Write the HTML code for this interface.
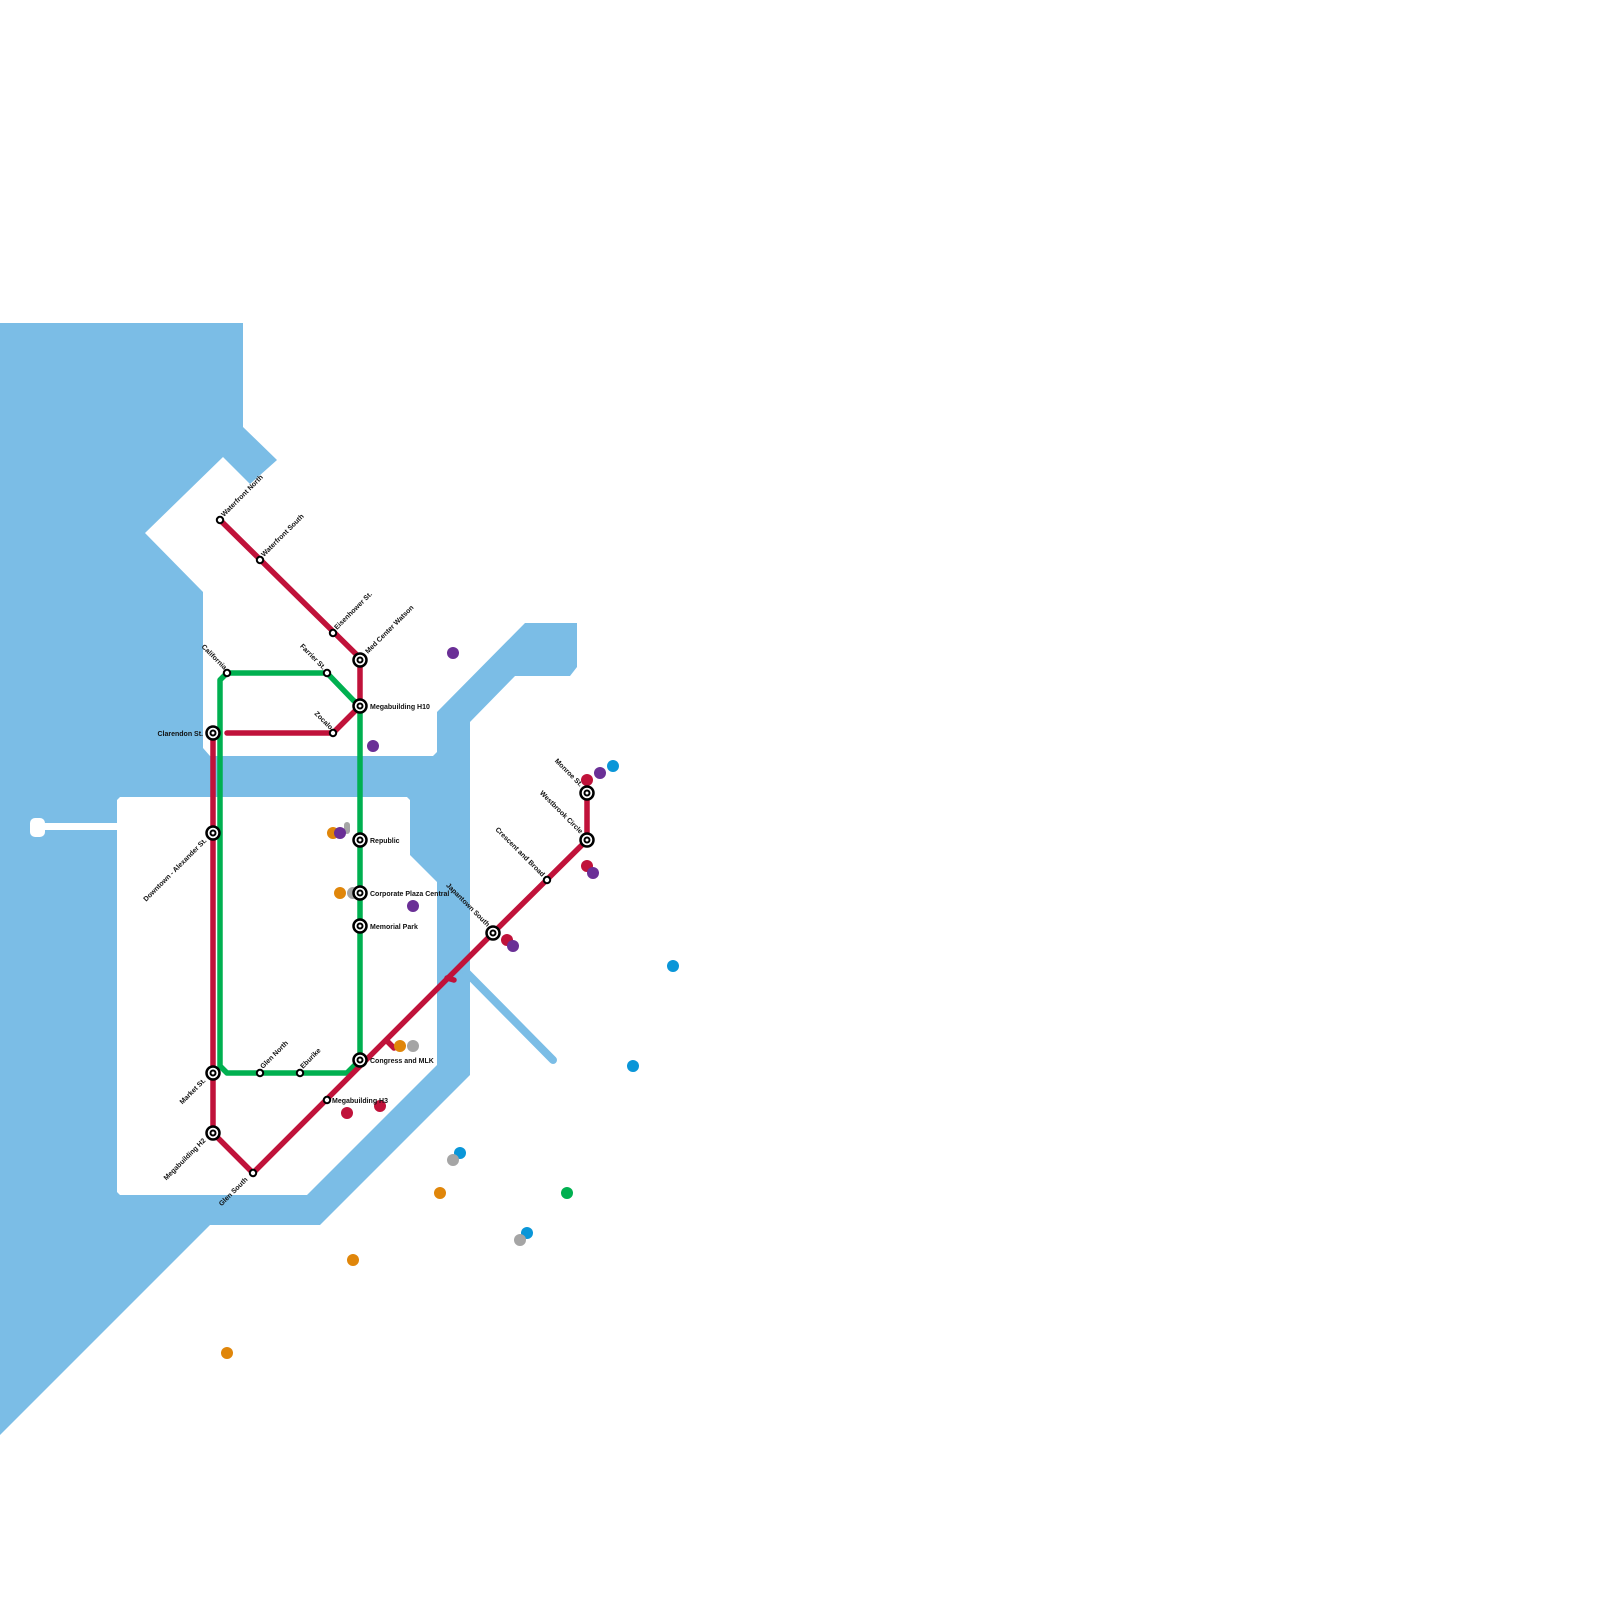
<!DOCTYPE html>
<html><head><meta charset="utf-8"><style>html,body{margin:0;padding:0;background:#fff}svg{display:block}text{font-family:"Liberation Sans",sans-serif;font-weight:bold;font-size:7px;fill:#111}</style></head><body>
<svg width="1600" height="1600" viewBox="0 0 1600 1600" xmlns="http://www.w3.org/2000/svg">
<g fill="#7bbde6">
<polygon points="0,323 243,323 243,427 277,460 250,484 223,457 145,533 203,592 203,748 210,756 433,756 437,752 437,712 525,623 577,623 577,667 570,676 515,676 470,722 470,1075 320,1225 210,1225 0,1435"/>
</g>
<line x1="466" y1="972" x2="553" y2="1060" stroke="#7bbde6" stroke-width="8" stroke-linecap="round"/>
<g fill="#fff">
<polygon points="120,797 407,797 410,800 410,855 437,882 437,1065 307,1195 120,1195 117,1192 117,800"/>
<polygon points="477,990 470,990 470,1075 540,1075 553,1068"/>
<rect x="30" y="818" width="15" height="19" rx="5"/>
<rect x="40" y="823" width="80" height="7"/>
</g>
<g fill="none" stroke-linejoin="round" stroke-linecap="round" stroke-width="5.5">
<polyline stroke="#00b050" points="227,673 220,680 220,1066 227,1073 347,1073 360,1060 360,706 353,700 327,673 227,673"/>
<polyline stroke="#c0123a" points="220,520 360,658 360,706 333,733 227,733"/>
<polyline stroke="#c0123a" points="213,733 213,1133 253,1173 493,933 587,840 587,793"/>
<line x1="388" y1="1042" x2="394" y2="1048" stroke="#c0123a"/>
<line x1="447" y1="978" x2="454" y2="980" stroke="#c0123a"/>
</g>
<g>
<circle cx="453" cy="653" r="6" fill="#6a2f96"/>
<circle cx="373" cy="746" r="6" fill="#6a2f96"/>
<circle cx="333" cy="833" r="6" fill="#e0860a"/>
<rect x="344" y="822" width="6" height="12" rx="3" fill="#a5a5a5"/>
<circle cx="340" cy="833" r="6" fill="#6a2f96"/>
<circle cx="340" cy="893" r="6" fill="#e0860a"/>
<circle cx="353" cy="893" r="6" fill="#a5a5a5"/>
<circle cx="413" cy="906" r="6" fill="#6a2f96"/>
<circle cx="613" cy="766" r="6" fill="#0a96d8"/>
<circle cx="600" cy="773" r="6" fill="#6a2f96"/>
<circle cx="587" cy="780" r="6" fill="#c0123a"/>
<circle cx="587" cy="866" r="6" fill="#c0123a"/>
<circle cx="593" cy="873" r="6" fill="#6a2f96"/>
<circle cx="507" cy="940" r="6" fill="#c0123a"/>
<circle cx="513" cy="946" r="6" fill="#6a2f96"/>
<circle cx="673" cy="966" r="6" fill="#0a96d8"/>
<circle cx="400" cy="1046" r="6" fill="#e0860a"/>
<circle cx="413" cy="1046" r="6" fill="#a5a5a5"/>
<circle cx="347" cy="1113" r="6" fill="#c0123a"/>
<circle cx="380" cy="1106" r="6" fill="#c0123a"/>
<circle cx="633" cy="1066" r="6" fill="#0a96d8"/>
<circle cx="460" cy="1153" r="6" fill="#0a96d8"/>
<circle cx="453" cy="1160" r="6" fill="#a5a5a5"/>
<circle cx="440" cy="1193" r="6" fill="#e0860a"/>
<circle cx="567" cy="1193" r="6" fill="#00b050"/>
<circle cx="527" cy="1233" r="6" fill="#0a96d8"/>
<circle cx="520" cy="1240" r="6" fill="#a5a5a5"/>
<circle cx="353" cy="1260" r="6" fill="#e0860a"/>
<circle cx="227" cy="1353" r="6" fill="#e0860a"/>
</g>
<g fill="#fff" stroke="#000" stroke-width="2">
<circle cx="220" cy="520" r="3.2"/><circle cx="260" cy="560" r="3.2"/><circle cx="333" cy="633" r="3.2"/>
<circle cx="227" cy="673" r="3.2"/><circle cx="327" cy="673" r="3.2"/><circle cx="333" cy="733" r="3.2"/>
<circle cx="260" cy="1073" r="3.2"/><circle cx="300" cy="1073" r="3.2"/><circle cx="327" cy="1100" r="3.2"/>
<circle cx="253" cy="1173" r="3.2"/><circle cx="547" cy="880" r="3.2"/>
</g>
<g fill="#fff" stroke="#000">
<g stroke-width="2.5">
<circle cx="360" cy="660" r="6.5"/><circle cx="360" cy="706" r="6.5"/><circle cx="213" cy="733" r="6.5"/>
<circle cx="213" cy="833" r="6.5"/><circle cx="213" cy="1073" r="6.5"/><circle cx="213" cy="1133" r="6.5"/>
<circle cx="360" cy="840" r="6.5"/><circle cx="360" cy="893" r="6.5"/><circle cx="360" cy="926" r="6.5"/>
<circle cx="360" cy="1060" r="6.5"/><circle cx="493" cy="933" r="6.5"/><circle cx="587" cy="840" r="6.5"/><circle cx="587" cy="793" r="6.5"/>
</g>
<g stroke-width="2">
<circle cx="360" cy="660" r="2.5"/><circle cx="360" cy="706" r="2.5"/><circle cx="213" cy="733" r="2.5"/>
<circle cx="213" cy="833" r="2.5"/><circle cx="213" cy="1073" r="2.5"/><circle cx="213" cy="1133" r="2.5"/>
<circle cx="360" cy="840" r="2.5"/><circle cx="360" cy="893" r="2.5"/><circle cx="360" cy="926" r="2.5"/>
<circle cx="360" cy="1060" r="2.5"/><circle cx="493" cy="933" r="2.5"/><circle cx="587" cy="840" r="2.5"/><circle cx="587" cy="793" r="2.5"/>
</g>
</g>
<text transform="translate(224,517) rotate(-45)">Waterfront North</text>
<text transform="translate(264,557) rotate(-45)">Waterfront South</text>
<text transform="translate(337,630) rotate(-45)">Eisenhower St.</text>
<text transform="translate(368,654) rotate(-45)">Med Center Watson</text>
<text x="370" y="709">Megabuilding H10</text>
<text text-anchor="end" transform="translate(323,670) rotate(45)">Farrier St.</text>
<text text-anchor="end" transform="translate(224,670) rotate(45)">California</text>
<text text-anchor="end" transform="translate(330,730) rotate(45)">Zocalo</text>
<text x="203" y="736" text-anchor="end">Clarendon St.</text>
<text text-anchor="end" transform="translate(207,841) rotate(-45)">Downtown - Alexander St.</text>
<text text-anchor="end" transform="translate(206,1081) rotate(-45)">Market St.</text>
<text text-anchor="end" transform="translate(206,1141) rotate(-45)">Megabuilding H2</text>
<text text-anchor="end" transform="translate(248,1180) rotate(-45)">Glen South</text>
<text transform="translate(263,1069) rotate(-45)">Glen North</text>
<text transform="translate(303,1069) rotate(-45)">Eburike</text>
<text x="332" y="1103">Megabuilding H3</text>
<text x="370" y="1063">Congress and MLK</text>
<text x="370" y="843">Republic</text>
<text x="370" y="896">Corporate Plaza Central</text>
<text x="370" y="929">Memorial Park</text>
<text text-anchor="end" transform="translate(487,927) rotate(45)">Japantown South</text>
<text text-anchor="end" transform="translate(542,877) rotate(45)">Crescent and Broad</text>
<text text-anchor="end" transform="translate(580,834) rotate(45)">Westbrook Circle</text>
<text text-anchor="end" transform="translate(580,787) rotate(45)">Monroe St.</text>
</svg>
</body></html>
